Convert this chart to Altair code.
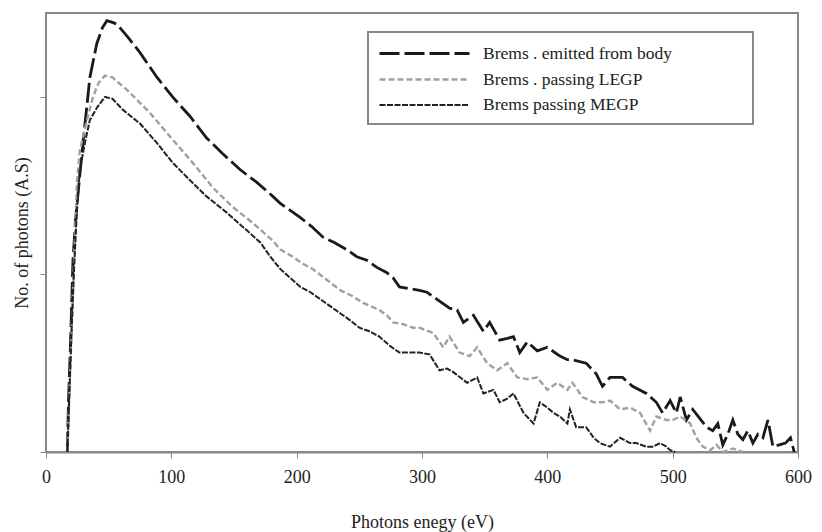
import altair as alt
import pandas as pd

# ---- data ----
series_names = ["Brems . emitted from body", "Brems . passing LEGP", "Brems passing MEGP"]

body_e = [17, 18, 19.5, 21.5, 23.5, 25.6, 29.5, 35, 40.5, 45, 48.6, 53, 56.6, 65, 75, 88.6, 101, 115, 128, 141,
          155, 168, 181, 187, 203, 212, 221, 230, 240, 248, 256, 264, 272, 277, 282, 290, 298, 304, 312, 322,
          328, 333, 341, 349, 354, 362, 368, 373, 378, 384, 392, 400, 410, 416, 420, 431, 439, 444, 450, 460,
          468, 479, 487, 492, 498, 503, 506, 511, 516, 527, 532, 536, 540, 544, 548, 552, 556, 560, 564, 568,
          572, 576, 580, 585, 590, 594, 597]
body_v = [0.0, 0.3, 0.6, 1.08, 1.3, 1.46, 1.74, 2.11, 2.30, 2.39, 2.43, 2.42, 2.41, 2.34, 2.25, 2.11, 2.0, 1.89, 1.77, 1.68,
          1.59, 1.52, 1.44, 1.40, 1.32, 1.27, 1.21, 1.18, 1.14, 1.10, 1.08, 1.04, 1.01, 0.98, 0.93, 0.92, 0.91, 0.90, 0.86, 0.81,
          0.80, 0.73, 0.77, 0.68, 0.73, 0.63, 0.64, 0.65, 0.56, 0.62, 0.57, 0.59, 0.54, 0.52, 0.52, 0.50, 0.44, 0.37, 0.42, 0.42,
          0.37, 0.33, 0.28, 0.22, 0.29, 0.22, 0.31, 0.18, 0.24, 0.14, 0.12, 0.16, 0.04, 0.10, 0.18, 0.10, 0.07, 0.12, 0.05, 0.10,
          0.08, 0.18, 0.03, 0.04, 0.05, 0.08, 0.0]

legp_e = [17, 18.5, 20.5, 22.5, 24.7, 27, 32.7, 37.5, 42, 47, 53, 64.6, 83, 101, 117, 133, 149, 165, 181, 187,
          197, 205, 213, 224, 235, 244, 253, 266, 272, 277, 285, 293, 298, 309, 317, 322, 330, 338, 344, 352,
          360, 368, 376, 384, 392, 400, 408, 416, 420, 428, 437, 444, 450, 458, 466, 474, 482, 487, 495, 500,
          506, 514, 519, 524, 530, 535, 540, 548, 556]
legp_v = [0.0, 0.3, 0.7, 1.1, 1.52, 1.70, 1.87, 2.0, 2.08, 2.12, 2.11, 2.04, 1.91, 1.76, 1.63, 1.49, 1.38, 1.29, 1.19, 1.14,
          1.10, 1.06, 1.03, 0.97, 0.91, 0.88, 0.84, 0.80, 0.77, 0.73, 0.72, 0.70, 0.70, 0.67, 0.59, 0.65, 0.56, 0.54, 0.59, 0.50,
          0.46, 0.50, 0.42, 0.41, 0.42, 0.35, 0.39, 0.35, 0.39, 0.31, 0.28, 0.28, 0.29, 0.24, 0.25, 0.22, 0.12, 0.20, 0.18, 0.18,
          0.20, 0.16, 0.08, 0.03, 0.01, 0.04, 0.0, 0.02, 0.0]

megp_e = [17, 18.5, 20.5, 22.5, 24.7, 27, 31, 35, 40.7, 47, 53, 61, 75, 88.6, 101, 115, 128, 144, 160, 171,
          179, 187, 195, 203, 211, 219, 227, 235, 243, 250, 258, 266, 274, 282, 290, 298, 306, 314, 320, 325,
          336, 344, 349, 357, 362, 368, 373, 381, 389, 394, 400, 405, 410, 416, 418, 423, 431, 437, 442, 450,
          458, 466, 471, 479, 484, 490, 495, 498, 502]
megp_v = [0.0, 0.3, 0.7, 1.05, 1.36, 1.59, 1.74, 1.87, 1.94, 2.0, 1.99, 1.93, 1.85, 1.74, 1.63, 1.53, 1.44, 1.35, 1.25, 1.18,
          1.10, 1.03, 0.98, 0.93, 0.90, 0.86, 0.82, 0.78, 0.74, 0.70, 0.68, 0.65, 0.60, 0.56, 0.56, 0.56, 0.55, 0.46, 0.47, 0.45,
          0.39, 0.42, 0.33, 0.35, 0.28, 0.30, 0.33, 0.22, 0.16, 0.28, 0.25, 0.22, 0.20, 0.16, 0.24, 0.14, 0.14, 0.08, 0.05, 0.03,
          0.08, 0.05, 0.05, 0.03, 0.03, 0.05, 0.03, 0.01, 0.0]

x_ticks = [0, 100, 200, 300, 400, 500, 600]
y_ticks = [0, 1, 2]

rows = []
for name, es, vs in zip(series_names, [body_e, legp_e, megp_e], [body_v, legp_v, megp_v]):
    for e, v in zip(es, vs):
        rows.append({"series": name, "energy": e, "photons": v})
df = pd.DataFrame(rows)

serif = "Liberation Serif"
# invisible trailing pad (nbsp + zero-width space so it is not trimmed) widens the legend frame
pad_sp = "\u00a0" * 16 + "\u200b"

legend = alt.Legend(
    title=None, orient="none", legendX=322, legendY=19,
    symbolType="M-1,0H8", symbolSize=400, symbolStrokeWidth=2.2,
    labelFont=serif, labelFontSize=17.5, labelColor="#222", labelOffset=82, labelLimit=500,
    rowPadding=6, padding=10, strokeColor="#888", fillColor="white",
    labelExpr="datum.label + '" + pad_sp + "'",
)

chart = alt.Chart(df).mark_line(interpolate="linear").encode(
    x=alt.X("energy:Q", scale=alt.Scale(domain=[0, 600], nice=False),
            axis=alt.Axis(values=x_ticks, grid=False, tickSize=6, tickColor="#888", domainColor="#888",
                          domainWidth=2, labelFont=serif, labelFontSize=18, labelColor="#222",
                          labelPadding=10, labelFlush=False, title="Photons enegy (eV)", titleFont=serif,
                          titleFontSize=18, titleFontWeight="normal", titleColor="#222", titlePadding=27)),
    y=alt.Y("photons:Q", scale=alt.Scale(domain=[0, 2.473], nice=False, zero=True),
            axis=alt.Axis(values=y_ticks, labels=False, grid=False, tickSize=6, tickColor="#888",
                          domain=False, title="No. of photons (A.S)", titleFont=serif, titleFontSize=18,
                          titleFontWeight="normal", titleColor="#222", titlePadding=8)),
    color=alt.Color("series:N", scale=alt.Scale(domain=series_names, range=["#1a1a1a", "#a0a0a0", "#222222"]),
                    legend=legend),
    strokeDash=alt.StrokeDash("series:N", scale=alt.Scale(domain=series_names, range=[[20, 5], [6, 3], [6, 1.5]]),
                              legend=legend),
    strokeWidth=alt.StrokeWidth("series:N", scale=alt.Scale(domain=series_names, range=[2.8, 2.0, 2.8]),
                                legend=None),
).properties(
    width=752, height=439,
    autosize=alt.AutoSizeParams(type="none"),
    padding={"left": 38, "top": 5, "right": 16, "bottom": 80},
    background="white",
).configure_view(
    stroke="#888", strokeWidth=2
).configure_legend(
    strokeWidth=2
)

chart.save("out.html", embed_options={"renderer": "svg", "actions": False})
